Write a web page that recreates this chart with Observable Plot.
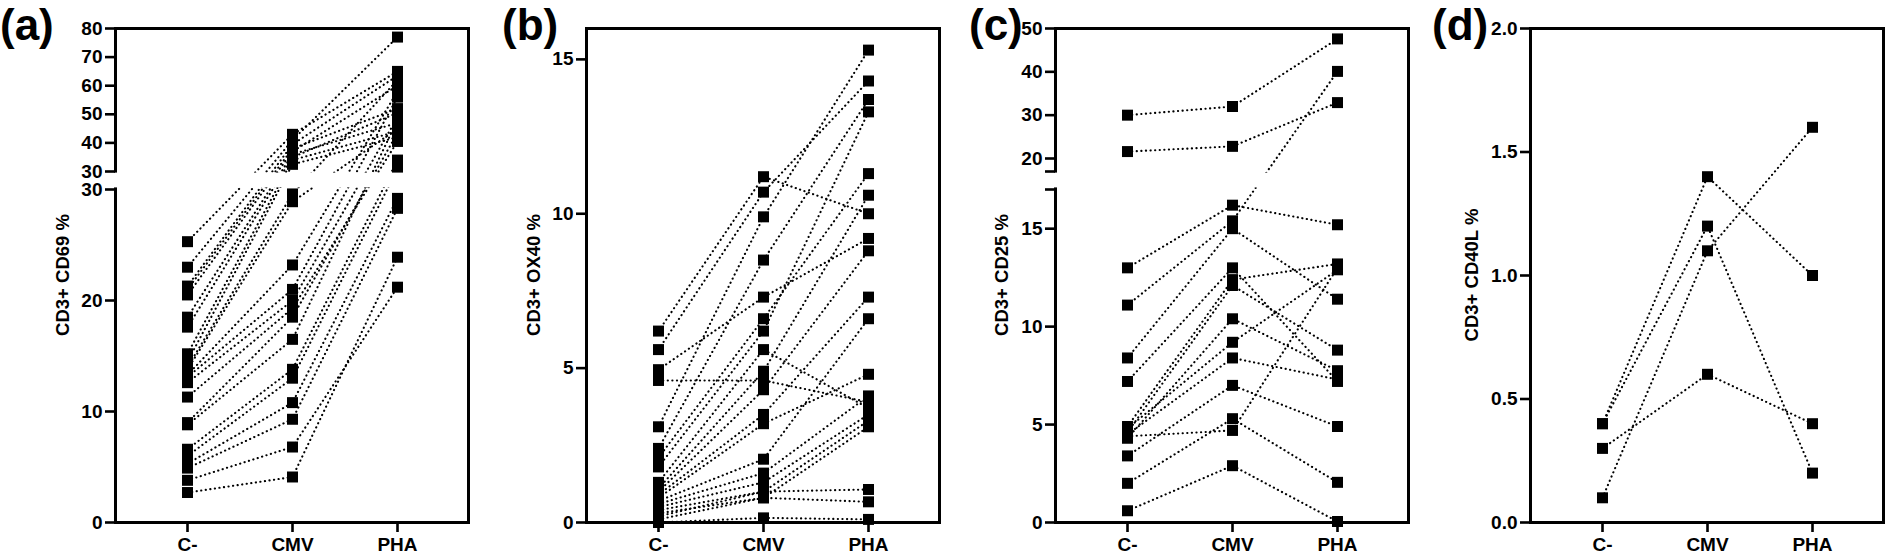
<!DOCTYPE html>
<html><head><meta charset="utf-8">
<script src="https://cdn.jsdelivr.net/npm/d3@7"></script>
<script src="https://cdn.jsdelivr.net/npm/@observablehq/plot@0.6"></script>
<style>
html,body{margin:0;padding:0;background:#fff;}
#root{position:relative;width:1890px;height:556px;overflow:hidden;font-family:"Liberation Sans",Arial,sans-serif;}
.panel{position:absolute;top:0;}
.letter{position:absolute;top:0;font-family:"Liberation Sans",Arial,sans-serif;font-weight:700;font-size:44px;line-height:normal;}
.ytitle{position:absolute;font-weight:bold;font-size:18.5px;white-space:nowrap;transform:translate(-50%,-50%) rotate(-90deg);}
</style></head><body><div id="root"></div>
<script>
const categories = ["C-", "CMV", "PHA"];

// (a) CD3+ CD69 %
const cd69_cneg = [25.3, 23.0, 21.3, 21.0, 20.5, 18.5, 17.6, 15.2, 14.5, 14.0, 13.8, 13.3, 13.1, 12.6, 11.3, 9.0, 8.8, 6.6, 6.0, 5.3, 4.9, 3.8, 2.7];
const cd69_cmv  = [43, 41, 39.5, 38, 37, 36, 35, 34, 32.5, 29.6, 28.9, 23.2, 21.0, 20.0, 19.3, 18.5, 16.5, 13.8, 13.0, 10.8, 9.3, 6.8, 4.1];
const cd69_pha  = [65, 77, 63.5, 52, 60, 47, 50.5, 44, 42, 62, 45, 58, 56, 49, 40.5, 43.5, 48, 34, 31, 29.2, 28.3, 21.2, 23.9];

// (b) CD3+ OX40 %
const ox40_cneg = [6.2, 5.6, 4.95, 4.6, 3.1, 2.4, 2.1, 1.8, 1.3, 1.1, 1.0, 0.9, 0.8, 0.7, 0.6, 0.5, 0.4, 0.3, 0.2, 0.1, 0.0];
const ox40_cmv  = [11.2, 10.7, 7.3, 4.6, 9.9, 8.5, 6.6, 6.2, 5.6, 4.9, 4.3, 3.5, 3.2, 2.05, 1.6, 1.3, 1.0, 0.8, 1.0, 0.8, 0.15];
const ox40_pha  = [10.0, 14.3, 9.2, 3.9, 15.3, 13.7, 11.3, 13.3, 3.7, 10.6, 8.8, 7.3, 4.8, 6.6, 4.1, 3.5, 3.3, 3.1, 1.07, 0.67, 0.1];

// (c) CD3+ CD25 %
const cd25_cneg = [30, 21.6, 13.0, 11.1, 8.4, 7.2, 4.9, 4.6, 4.3, 4.8, 4.5, 3.4, 2.0, 4.4, 0.6];
const cd25_cmv  = [32, 22.8, 16.2, 15.4, 15.0, 13.0, 12.4, 12.1, 10.4, 9.2, 8.4, 7.0, 5.3, 4.7, 2.9];
const cd25_pha  = [47.6, 32.9, 15.2, 40.1, 11.4, 7.2, 13.2, 8.8, 7.75, 12.9, 7.3, 4.9, 2.05, 13.0, 0.05];

// (d) CD3+ CD40L %
const cd40l_cneg = [0.4, 0.4, 0.1, 0.3];
const cd40l_cmv  = [1.4, 1.2, 1.1, 0.6];
const cd40l_pha  = [1.0, 0.2, 1.6, 0.4];

// axis ticks (lower / upper segments for broken axes)
const ticksA_low = [0, 10, 20, 30], ticksA_high = [30, 40, 50, 60, 70, 80];
const ticksB = [0, 5, 10, 15];
const ticksC_low = [0, 5, 10, 15, 17], ticksC_high = [17, 20, 30, 40, 50];
const ticksD = [0, 0.5, 1.0, 1.5, 2.0];

const TOP = 28, BOTTOM = 522, FW = 353;
const FH = BOTTOM - TOP;           // frame height (px)
const LOW_H = 333, GAP_H = 18;      // broken axis: lower segment and gap heights (px)

// broken-axis transform: value -> position in frame units (0 at bottom, FH at top)
function brokenAxis(lowMax, highMin, highMax, lowTicks, highTicks, hiddenLabels) {
  const upH = FH - LOW_H - GAP_H;
  const low = v => v / lowMax * LOW_H;
  const high = v => LOW_H + GAP_H + (v - highMin) / (highMax - highMin) * upH;
  const f = v => (v < lowMax ? low(v) : high(v));
  const ticks = [], labels = new Map();
  for (const t of lowTicks) { const p = low(t); ticks.push(p); labels.set(p, hiddenLabels.includes(t) ? "" : String(t)); }
  for (const t of highTicks) { const p = high(t); ticks.push(p); labels.set(p, hiddenLabels.includes(t) ? "" : String(t)); }
  return {f, domain: [0, FH], ticks, fmt: d => labels.get(d) ?? "", gaps: [{lo: LOW_H, hi: LOW_H + GAP_H}]};
}
function plainAxis(max, ticks, fmt) {
  return {f: v => v, domain: [0, max], ticks, fmt, gaps: []};
}

const panels = [
  {letter: "(a)", title: "CD3+ CD69 %", vals: [cd69_cneg, cd69_cmv, cd69_pha], left: 0, axis: 115, letterX: 0, titleOff: 52,
   ax: brokenAxis(30, 30, 80, ticksA_low, ticksA_high, [])},
  {letter: "(b)", title: "CD3+ OX40 %", vals: [ox40_cneg, ox40_cmv, ox40_pha], left: 472, axis: 586, letterX: 502, titleOff: 52,
   ax: plainAxis(16, ticksB, d => String(d))},
  {letter: "(c)", title: "CD3+ CD25 %", vals: [cd25_cneg, cd25_cmv, cd25_pha], left: 945, axis: 1055, letterX: 969, titleOff: 53,
   ax: brokenAxis(17, 17, 50, ticksC_low, ticksC_high, [17])},
  {letter: "(d)", title: "CD3+ CD40L %", vals: [cd40l_cneg, cd40l_cmv, cd40l_pha], left: 1418, axis: 1530, letterX: 1432, titleOff: 58,
   ax: plainAxis(2, ticksD, d3.format(".1f"))}
];

const root = document.getElementById("root");
for (const p of panels) {
  const rows = [];
  p.vals[0].forEach((_, i) => categories.forEach((c, j) => rows.push({id: i, cond: c, v: p.vals[j][i]})));
  const mL = p.axis - p.left;
  const Y = d => p.ax.f(d.v);
  const chart = Plot.plot({
    width: mL + FW + 6, height: 556,
    marginLeft: mL, marginRight: 6, marginTop: TOP, marginBottom: 556 - BOTTOM,
    style: {background: "transparent", fontFamily: "Liberation Sans, Arial, sans-serif", fontSize: "19px", fontWeight: "bold", overflow: "visible"},
    x: {type: "point", domain: categories, padding: 0.67},
    y: {domain: p.ax.domain},
    marks: [
      Plot.frame({stroke: "black", strokeWidth: 3}),
      Plot.line(rows, {x: "cond", y: Y, z: "id", stroke: "black", strokeWidth: 2.1, strokeDasharray: "0.2 4.4", strokeLinecap: "round"}),
      Plot.dot(rows, {x: "cond", y: Y, symbol: "square", r: 6.2, fill: "black", stroke: null}),
      Plot.rect(p.ax.gaps, {y1: "lo", y2: "hi", fill: "white", insetLeft: -14, insetRight: 3, insetTop: 1.6, insetBottom: 1.6}),
      Plot.axisY({ticks: p.ax.ticks, tickFormat: p.ax.fmt, tickSize: 10, tickPadding: 3, strokeWidth: 2.6, fontSize: 19, label: null}),
      Plot.axisX({tickSize: 10, tickPadding: 5, strokeWidth: 2.6, fontSize: 19, label: null})
    ]
  });
  const wrap = document.createElement("div");
  wrap.className = "panel";
  wrap.style.left = p.left + "px";
  wrap.appendChild(chart);
  root.appendChild(wrap);

  const lt = document.createElement("div");
  lt.className = "letter";
  lt.style.left = p.letterX + "px";
  lt.textContent = p.letter;
  root.appendChild(lt);

  const tt = document.createElement("div");
  tt.className = "ytitle";
  tt.style.left = (p.axis - p.titleOff) + "px";
  tt.style.top = ((TOP + BOTTOM) / 2) + "px";
  tt.textContent = p.title;
  root.appendChild(tt);
}
</script></body></html>
